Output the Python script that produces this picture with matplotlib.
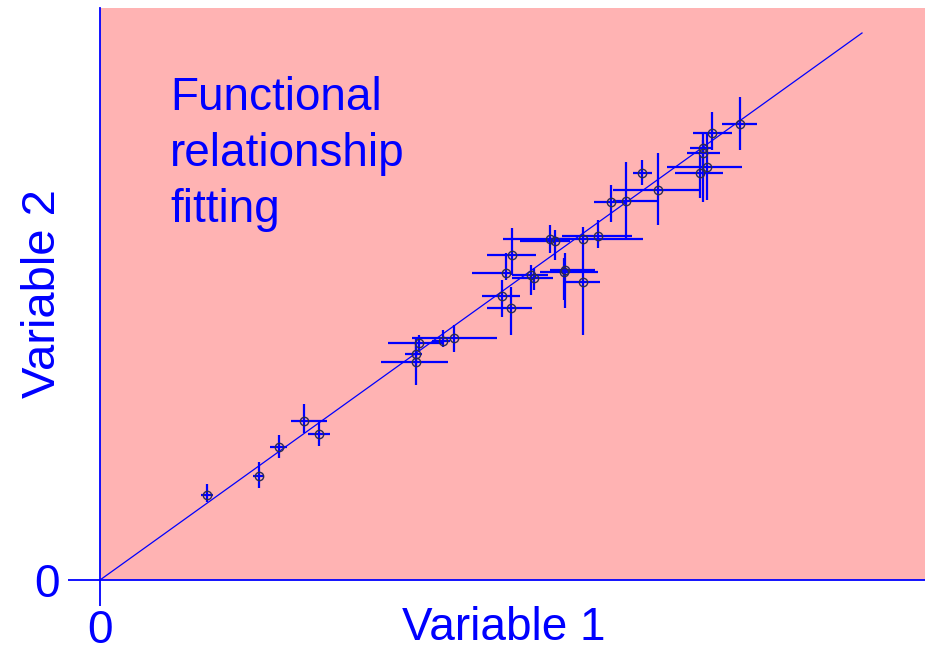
import matplotlib.pyplot as plt
import numpy as np

# points (data units), with low/high ends of the error bars
x = [1.07, 1.59, 1.79, 2.04, 2.19, 3.16, 3.16, 3.19, 3.43, 3.54,
     4.02, 4.11, 4.06, 4.12, 4.31, 4.34, 4.50, 4.55, 4.65, 4.64,
     4.83, 4.83, 4.98, 5.11, 5.26, 5.42, 5.58, 6.00, 6.07, 6.03,
     6.03, 6.12, 6.40]
y = [0.85, 1.04, 1.33, 1.59, 1.46, 2.18, 2.26, 2.37, 2.39, 2.42,
     2.84, 2.72, 3.07, 3.25, 3.05, 3.02, 3.41, 3.39, 3.10, 3.08,
     2.98, 3.41, 3.44, 3.78, 3.79, 4.07, 3.90, 4.07, 4.13, 4.27,
     4.32, 4.47, 4.56]
x_lo = [1.01, 1.53, 1.70, 1.91, 2.08, 2.81, 3.05, 2.88, 3.32, 3.12,
        3.82, 3.87, 3.72, 3.87, 4.12, 4.12, 4.03, 4.20, 4.50, 4.40,
        4.65, 4.50, 4.62, 4.94, 5.13, 5.33, 5.13, 5.75, 5.67, 5.87,
        5.90, 5.93, 6.22]
x_hi = [1.13, 1.64, 1.87, 2.27, 2.30, 3.48, 3.22, 3.43, 3.50, 3.97,
        4.20, 4.32, 4.12, 4.36, 4.48, 4.53, 4.70, 4.70, 4.95, 4.98,
        5.00, 5.43, 5.32, 5.27, 5.58, 5.52, 6.00, 6.23, 6.42, 6.20,
        6.12, 6.32, 6.57]
y_lo = [0.78, 0.92, 1.22, 1.47, 1.34, 1.95, 2.15, 2.28, 2.33, 2.28,
        2.63, 2.45, 3.00, 3.05, 2.85, 2.90, 3.27, 3.20, 2.72, 2.80,
        2.45, 3.18, 3.32, 3.58, 3.40, 3.95, 3.55, 3.82, 3.80, 3.78,
        4.10, 4.30, 4.30]
y_hi = [0.96, 1.18, 1.45, 1.76, 1.58, 2.43, 2.35, 2.45, 2.50, 2.55,
        3.00, 2.93, 3.27, 3.52, 3.15, 3.12, 3.55, 3.50, 3.27, 3.22,
        3.18, 3.53, 3.60, 3.95, 4.18, 4.20, 4.27, 4.25, 4.47, 4.47,
        4.40, 4.68, 4.83]

fit_x = [0.0, 7.62]
fit_y = [0.0, 5.47]

blue = '#0000ff'
plt.rcParams['font.family'] = ['Liberation Sans', 'DejaVu Sans']

fig = plt.figure(figsize=(9.25, 6.54), dpi=100)
ax = fig.add_axes([100 / 925, 74 / 654, 825 / 925, 572 / 654])
ax.set_facecolor('#ffb3b3')

x = np.array(x)
y = np.array(y)
xerr = [x - np.array(x_lo), np.array(x_hi) - x]
yerr = [y - np.array(y_lo), np.array(y_hi) - y]

ax.plot(fit_x, fit_y, color=blue, lw=0.9, zorder=2)
ax.errorbar(x, y, xerr=xerr, yerr=yerr, fmt='none', ecolor=blue,
            elinewidth=1.6, capsize=0, zorder=3)
ax.plot(x, y, 'o', ms=6, mfc='none', mec='#2a2a50', mew=1.0, zorder=4)

ax.set_xlim(0, 8.25)
ax.set_ylim(0, 5.72)

for s in ['top', 'right']:
    ax.spines[s].set_visible(False)
for s in ['left', 'bottom']:
    ax.spines[s].set_color(blue)
    ax.spines[s].set_linewidth(1.3)

ax.set_xticks([0])
ax.set_yticks([0])
ax.set_xticklabels(['0'])
ax.set_yticklabels(['0'])
ax.tick_params(axis='x', length=19, width=1.3, color=blue, labelcolor=blue,
               labelsize=33, pad=2)
ax.tick_params(axis='y', length=23, width=1.3, color=blue, labelcolor=blue,
               labelsize=33, pad=6)

ax.set_xlabel('Variable 1', fontsize=33, color=blue, labelpad=-34, x=0.49)
ax.set_ylabel('Variable 2', fontsize=34, color=blue, labelpad=-22)

ax.text(0.7, 5.04, 'Functional\nrelationship\nfitting', fontsize=33,
        color=blue, va='top', ha='left', linespacing=1.36)

fig.savefig('out.png', dpi=100)
